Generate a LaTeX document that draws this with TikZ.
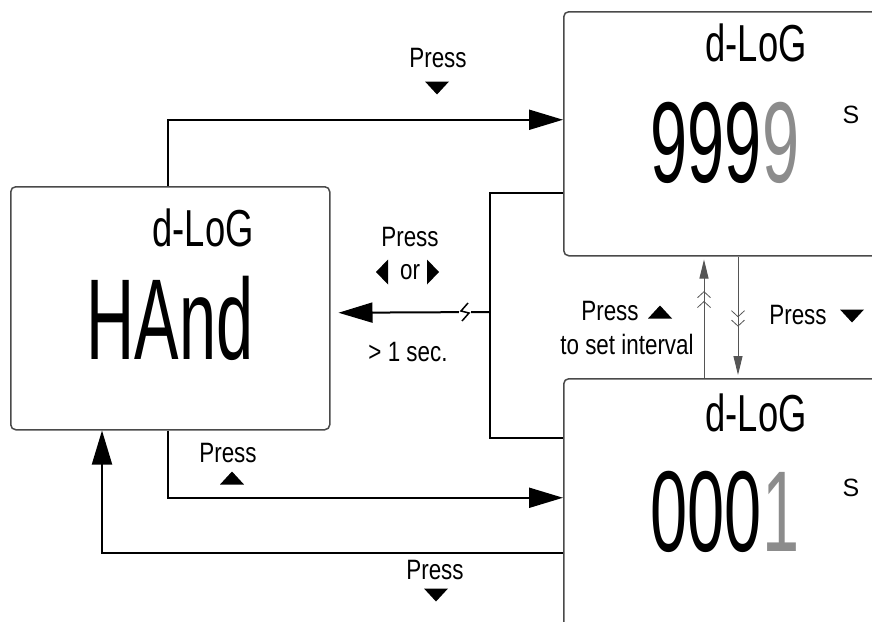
\documentclass[tikz,border=0pt]{standalone}
\usepackage{fontspec}
\setmainfont{Liberation Sans}[FakeStretch=0.8]
\newfontfamily\lcd{Liberation Sans}[FakeStretch=0.58]
\newfontfamily\lcdchico{Liberation Sans}[FakeStretch=0.7]
\newfontfamily\unid{Liberation Sans}
\usepackage{xcolor}
\usepackage{tikz}
\usetikzlibrary{positioning,arrows.meta,decorations.markings}
\definecolor{cborde}{HTML}{4A4A4A}
\definecolor{cgris}{HTML}{8C8C8C}
\definecolor{cfina}{HTML}{555555}
\tikzset{
  pantalla/.style={rectangle, rounded corners=5pt, draw=cborde, line width=1.5pt,
    anchor=north west, minimum width=340pt, inner sep=0pt},
  flecha/.style={-{Triangle[length=34pt,width=20pt]}, line width=2pt},
  linea/.style={line width=2pt},
  fina/.style={-{Triangle[length=19pt,width=9pt]}, line width=1pt, draw=cfina, shorten >=3pt},
  chev/.style 2 args={postaction=decorate, decoration={markings,
      mark=at position #1 with {\arrow{Straight Barb[length=6pt,width=13pt,line width=0.8pt]}},
      mark=at position #2 with {\arrow{Straight Barb[length=6pt,width=13pt,line width=0.8pt]}}}},
  etq/.style={font=\fontsize{28}{30}\selectfont, inner sep=0pt},
  lcdg/.style={font=\lcd\fontsize{115}{115}\selectfont, inner sep=0pt},
  lcdp/.style={font=\lcdchico\fontsize{52}{52}\selectfont, inner sep=0pt},
  unidad/.style={font=\unid\fontsize{25}{25}\selectfont, inner sep=0pt},
  abajo/.pic={\fill (-12,-6.5) -- (12,-6.5) -- (0,6.5) -- cycle;},
  arriba/.pic={\fill (-12,6.5) -- (12,6.5) -- (0,-6.5) -- cycle;},
  izqda/.pic={\fill (6,-12.5) -- (6,12.5) -- (-6,0) -- cycle;},
  dcha/.pic={\fill (-6,-12.5) -- (-6,12.5) -- (6,0) -- cycle;},
}
\begin{document}
\begin{tikzpicture}[x=1pt,y=-1pt]
  \useasboundingbox (0,0) rectangle (872,621);
  \clip (0,0) rectangle (872,621);
  % pantallas
  \node[pantalla, minimum width=319pt, minimum height=243pt] (izq) at (10,186) {};
  \node[pantalla, minimum height=244pt] (sup) at (563,11) {};
  \node[pantalla, minimum height=280pt] (inf) at (563,378) {};
  \node[lcdp] (izq1) at (203,228) {d-LoG};
  \node[lcdg] (izq2) at (170,318) {HAnd};
  \node[lcdp] (sup1) at (756,43) {d-LoG};
  \node[lcdg] (sup2) at (725,143) {999\textcolor{cgris}{9}};
  \node[unidad] (sup3) at (851,115) {S};
  \node[lcdp] (inf1) at (756,413) {d-LoG};
  \node[lcdg] (inf2) at (725,512) {000\textcolor{cgris}{1}};
  \node[unidad] (inf3) at (851,488) {S};
  % conectores
  \draw[flecha] ([xshift=158pt]izq.north west) |- ([yshift=14pt]sup.west);
  \draw[linea] ([yshift=-59pt]sup.west) -- ++(-73,0) |- ([yshift=81pt]inf.west);
  \coordinate (rama) at (490,312);
  \draw[flecha] (rama) -- ([xshift=8pt,yshift=-4.5pt]izq.east);
  \fill[white] (459,302) rectangle (471,322);
  \draw[line width=1.5pt] (468,303) -- (461,311) -- (469,313) -- (462,321);
  \draw[flecha] ([xshift=158pt]izq.south west) |- ([yshift=21pt]inf.west);
  \draw[flecha] ([yshift=-34pt]inf.west) -| ([xshift=92pt]izq.south west);
  \draw[fina, chev={0.634}{0.715}] ([xshift=141pt]inf.north west) -- ([xshift=141pt]sup.south west);
  \draw[fina, chev={0.5}{0.577}] ([xshift=175pt]sup.south west) -- ([xshift=175pt]inf.north west);
  % etiquetas
  \node[etq] (p1) at (438,58) {Press};
  \pic at (437,88) {abajo};
  \node[etq] (p2) at (410,237) {Press};
  \node[etq, below=17pt of p2] (o2) {or};
  \pic at (382,272) {izqda};
  \pic at (433,272) {dcha};
  \node[etq] (s2) at (408,352) {> 1 sec.};
  \node[etq] (p3) at (610,311) {Press};
  \pic at (660,312) {arriba};
  \node[etq] (t3) at (627,344) {to set interval};
  \node[etq] (p4) at (798,315) {Press};
  \pic at (852,316) {abajo};
  \node[etq] (p5) at (228,453) {Press};
  \pic at (232,478) {arriba};
  \node[etq] (p6) at (435,570) {Press};
  \pic at (436,595) {abajo};
\end{tikzpicture}
\end{document}
